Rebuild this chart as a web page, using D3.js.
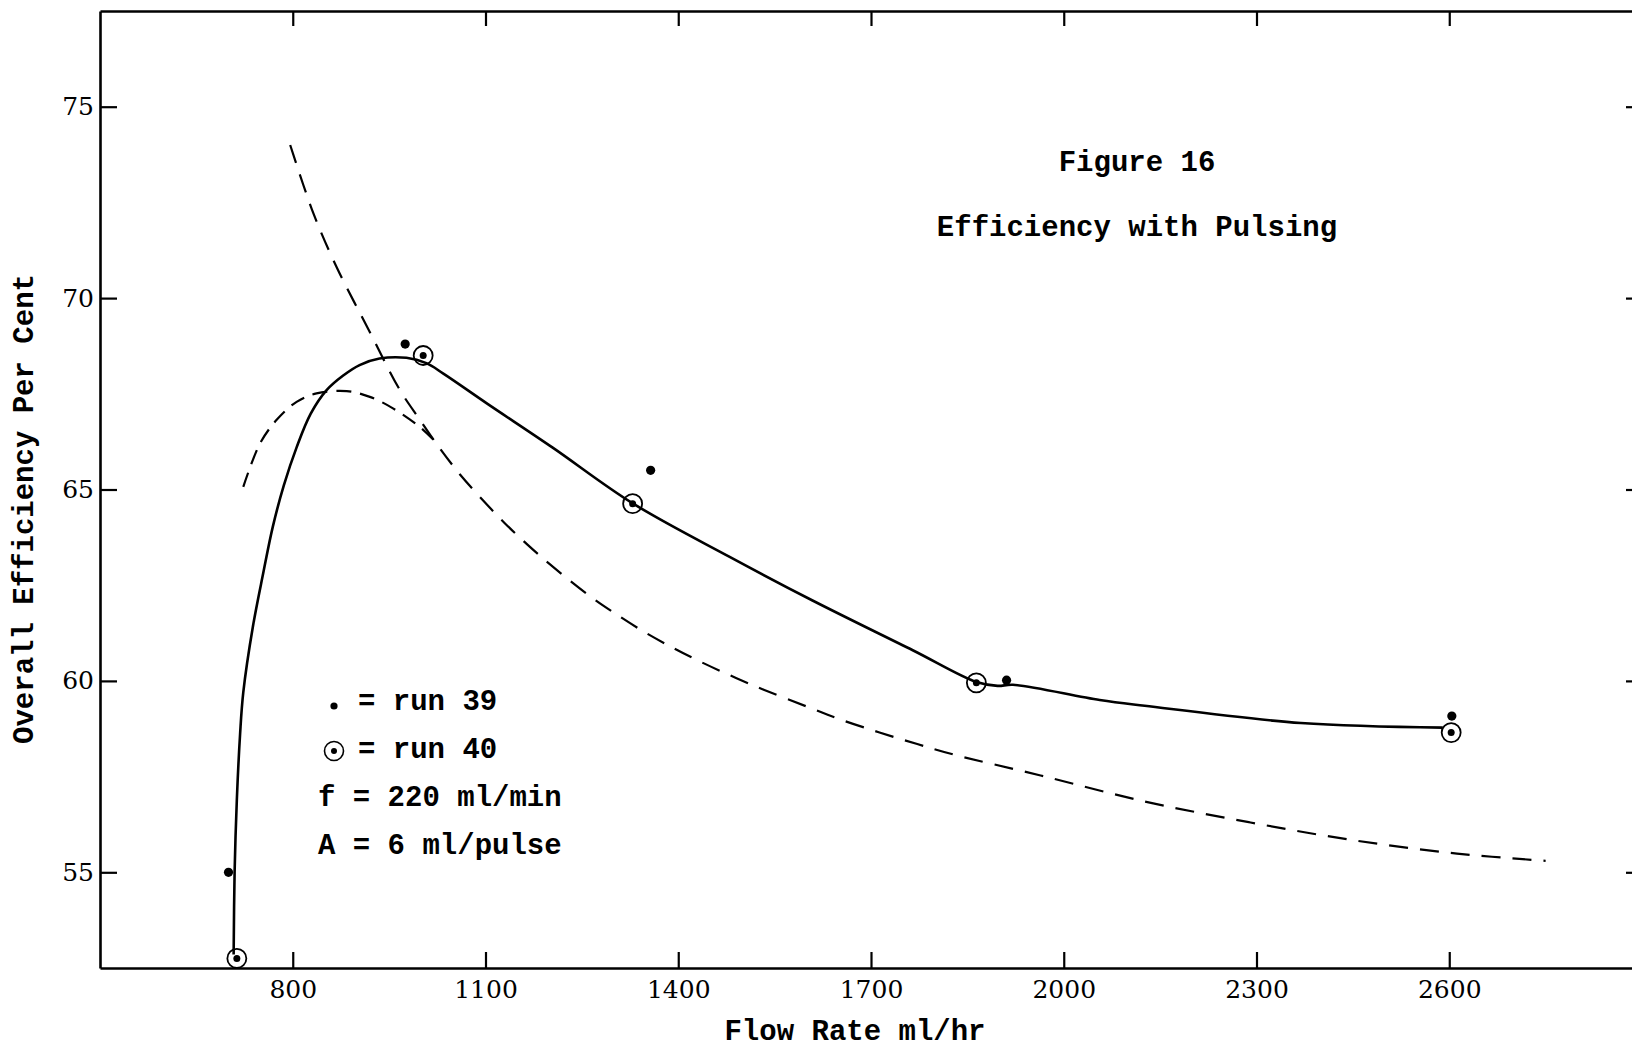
<!DOCTYPE html>
<html>
<head>
<meta charset="utf-8">
<script src="https://cdn.jsdelivr.net/npm/d3@7"></script>
<style>
  body { margin: 0; background: #fff; }
  svg { display: block; }
</style>
</head>
<body>
<div id="chart"></div>
<script>
// Axis ticks
var xTicks = [800, 1100, 1400, 1700, 2000, 2300, 2600];
var yTicks = [55, 60, 65, 70, 75];

// Measured points [flow rate, efficiency]
var run39 = [[700, 55.0], [975, 68.8], [1357, 65.5], [1911, 60.02], [2604, 59.08]];
var run40 = [[713, 52.75], [1003, 68.5], [1329, 64.63], [1864, 59.95], [2603, 58.65]];

// Hand drawn solid curve through run 40
var solidCurve = [
  [708, 52.85], [709.5, 55], [713, 56.9], [718, 58.6], [723, 59.7], [738, 61.42],
  [754, 62.81], [769, 64.03], [786, 65.1], [806, 66.1], [828, 66.98], [853, 67.6],
  [878, 67.97], [904, 68.25], [935, 68.42], [977, 68.44], [1008, 68.3], [1035, 68.02],
  [1102, 67.25], [1204, 66.1], [1328, 64.65], [1480, 63.24], [1609, 62.1],
  [1765, 60.8], [1864, 59.97], [1897, 59.87], [1921, 59.9], [2056, 59.5],
  [2126, 59.35], [2369, 58.9], [2590, 58.78]
];

// Dashed curves
var dashedSteep = [
  [796, 74.0], [832, 72.22], [868, 70.82], [921, 69.08], [966, 67.62], [998, 66.82],
  [1030, 66.05], [1060, 65.4], [1096, 64.72], [1130, 64.12], [1164, 63.58], [1200, 63.05],
  [1258, 62.27], [1301, 61.77], [1348, 61.27], [1390, 60.88], [1431, 60.53], [1480, 60.15],
  [1533, 59.77], [1600, 59.33], [1651, 59.0], [1712, 58.66], [1772, 58.35], [1830, 58.07],
  [1964, 57.53], [2126, 56.85], [2288, 56.31], [2450, 55.84], [2612, 55.49], [2750, 55.3]
];
var dashedArch = [
  [723, 65.07], [749, 66.2], [775, 66.82], [806, 67.29], [837, 67.51], [884, 67.57],
  [920, 67.42], [956, 67.12], [998, 66.63], [1022, 66.25]
];

// Legend and titles
var legendRows = [
  { symbol: "dot", text: "= run 39" },
  { symbol: "circle", text: "= run 40" },
  { symbol: null, text: "f = 220 ml/min" },
  { symbol: null, text: "A = 6 ml/pulse" }
];
var titleLines = ["Figure 16", "Efficiency with Pulsing"];
var xLabel = "Flow Rate ml/hr";
var yLabel = "Overall Efficiency Per Cent";

var svgWidth = 1632;
var svgHeight = 1051;
var mono = "'Liberation Mono', 'DejaVu Sans Mono', monospace";
var serif = "'DejaVu Serif', 'Liberation Serif', serif";

var svg = d3.select("#chart")
            .append("svg")
            .attr("width", svgWidth)
            .attr("height", svgHeight)
            .style("background", "#fff");

// right frame sits just past the page edge, like the scan
var x = d3.scaleLinear().domain([500, 2900]).range([100, 1642]);
var y = d3.scaleLinear().domain([52.5, 77.5]).range([968, 11]);

// Axes (ticks point inward on all four sides)
function styleAxis(g) {
  g.select(".domain").attr("stroke", "#000").attr("stroke-width", 2.6);
  g.selectAll(".tick line").attr("stroke", "#000").attr("stroke-width", 2.2);
  g.selectAll(".tick text")
   .attr("fill", "#000")
   .attr("font-family", serif)
   .attr("font-size", "25px");
}

svg.append("g")
   .attr("transform", "translate(0," + y.range()[0] + ")")
   .call(d3.axisBottom(x).tickValues(xTicks).tickFormat(d3.format("d"))
           .tickSizeInner(-16).tickSizeOuter(0).tickPadding(12))
   .call(styleAxis);

svg.append("g")
   .attr("transform", "translate(0," + y.range()[1] + ")")
   .call(d3.axisTop(x).tickValues(xTicks).tickFormat("")
           .tickSizeInner(-15).tickSizeOuter(0))
   .call(styleAxis);

svg.append("g")
   .attr("transform", "translate(" + x.range()[0] + ",0)")
   .call(d3.axisLeft(y).tickValues(yTicks).tickFormat(d3.format("d"))
           .tickSizeInner(-17).tickSizeOuter(0).tickPadding(6))
   .call(styleAxis);

svg.append("g")
   .attr("transform", "translate(" + x.range()[1] + ",0)")
   .call(d3.axisRight(y).tickValues(yTicks).tickFormat("")
           .tickSizeInner(-16).tickSizeOuter(0))
   .call(styleAxis);

// Curves
var line = d3.line()
             .x(function(d) { return x(d[0]); })
             .y(function(d) { return y(d[1]); })
             .curve(d3.curveCatmullRom.alpha(0.5));

svg.append("path")
   .datum(dashedSteep)
   .attr("d", line)
   .attr("fill", "none")
   .attr("stroke", "#000")
   .attr("stroke-width", 2.2)
   .attr("stroke-dasharray", "19,12");

svg.append("path")
   .datum(dashedArch)
   .attr("d", line)
   .attr("fill", "none")
   .attr("stroke", "#000")
   .attr("stroke-width", 2.2)
   .attr("stroke-dasharray", "15,9");

svg.append("path")
   .datum(solidCurve)
   .attr("d", line)
   .attr("fill", "none")
   .attr("stroke", "#000")
   .attr("stroke-width", 2.6);

// Run 39 dots
svg.selectAll("circle.run39")
   .data(run39)
   .enter()
   .append("circle")
   .attr("class", "run39")
   .attr("cx", function(d) { return x(d[0]); })
   .attr("cy", function(d) { return y(d[1]); })
   .attr("r", 4.6)
   .attr("fill", "#000");

// Run 40 circled dots
var r40 = svg.selectAll("g.run40")
             .data(run40)
             .enter()
             .append("g")
             .attr("class", "run40")
             .attr("transform", function(d) {
               return "translate(" + x(d[0]) + "," + y(d[1]) + ")";
             });
r40.append("circle").attr("r", 9.5).attr("fill", "none")
   .attr("stroke", "#000").attr("stroke-width", 1.8);
r40.append("circle").attr("r", 3.5).attr("fill", "#000");

// Titles
svg.selectAll("text.title")
   .data(titleLines)
   .enter()
   .append("text")
   .attr("class", "title")
   .attr("x", 1137)
   .attr("y", function(d, i) { return 171 + i * 65; })
   .attr("text-anchor", "middle")
   .attr("font-family", mono)
   .attr("font-weight", "bold")
   .attr("font-size", "29px")
   .text(function(d) { return d; });

// Axis labels
svg.append("text")
   .attr("x", 855)
   .attr("y", 1040)
   .attr("text-anchor", "middle")
   .attr("font-family", mono)
   .attr("font-weight", "bold")
   .attr("font-size", "29px")
   .text(xLabel);

svg.append("text")
   .attr("transform", "translate(33,509) rotate(-90)")
   .attr("text-anchor", "middle")
   .attr("font-family", mono)
   .attr("font-weight", "bold")
   .attr("font-size", "29px")
   .text(yLabel);

// Legend block
var legend = svg.selectAll("g.legend")
                .data(legendRows)
                .enter()
                .append("g")
                .attr("class", "legend")
                .attr("transform", function(d, i) {
                  return "translate(318," + (710 + i * 48) + ")";
                });

legend.append("text")
      .attr("x", function(d) { return d.symbol ? 40 : 0; })
      .attr("font-family", mono)
      .attr("font-weight", "bold")
      .attr("font-size", "29px")
      .text(function(d) { return d.text; });

legend.filter(function(d) { return d.symbol === "dot"; })
      .append("circle")
      .attr("cx", 16).attr("cy", -4).attr("r", 3.6).attr("fill", "#000");

legend.filter(function(d) { return d.symbol === "circle"; })
      .append("circle")
      .attr("cx", 16).attr("cy", -7).attr("r", 9.5)
      .attr("fill", "none").attr("stroke", "#000").attr("stroke-width", 1.6);

legend.filter(function(d) { return d.symbol === "circle"; })
      .append("circle")
      .attr("cx", 16).attr("cy", -7).attr("r", 3).attr("fill", "#000");
</script>
</body>
</html>
